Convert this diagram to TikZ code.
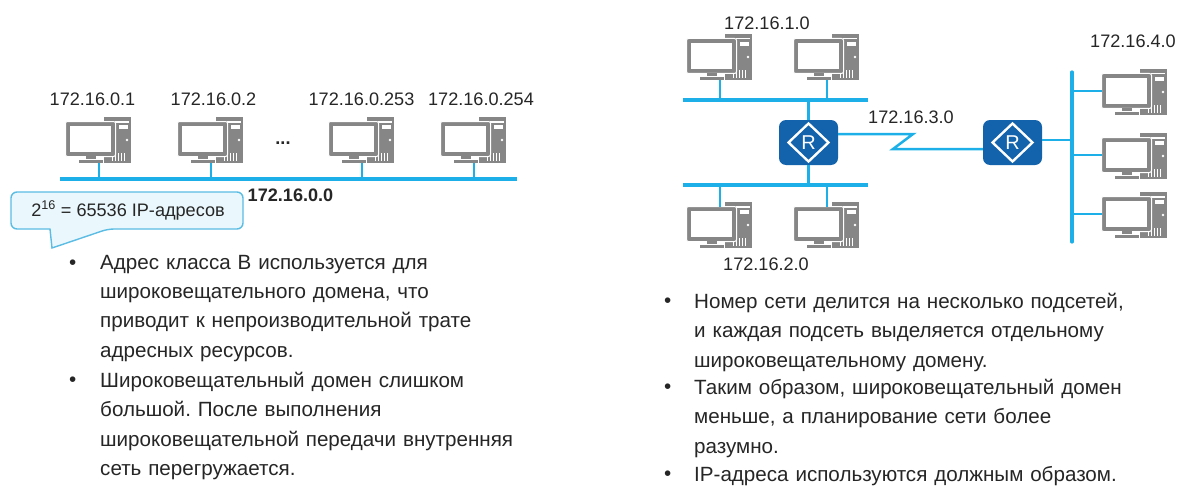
\documentclass[tikz,border=0pt]{standalone}
\usepackage{fontspec}
\usetikzlibrary{calc}
\setmainfont{Liberation Sans}
\frenchspacing
\definecolor{bus}{HTML}{1DB0E8}
\definecolor{rout}{HTML}{1262AC}
\definecolor{pcg}{HTML}{868686}
\definecolor{calloutb}{HTML}{5BBCE4}
\definecolor{calloutf}{HTML}{EAF7FC}
\definecolor{txt}{HTML}{262626}
\tikzset{
  x=1pt,y=-1pt,
  netline/.style={draw=bus,line width=3.2pt},
  link/.style={draw=bus,line width=2.5pt},
  lbl/.style={font=\fontsize{18.1}{20}\selectfont,text=txt,inner sep=0pt,anchor=center},
  body/.style={font=\fontsize{20.6}{29.3}\selectfont,text=txt,inner sep=0pt,anchor=north west,align=left},
  router/.style={fill=rout,rounded corners=7pt,minimum width=59pt,minimum height=45pt,inner sep=0pt},
  routerR/.style={font=\fontsize{20}{20}\selectfont,text=white,inner sep=0pt},
  pc/.pic={
    \fill[pcg] (38,-5) rectangle (65,41);
    \fill[white] (53,3) rectangle (62,7);
    \fill[white] (61,18) circle (1.3);
    \foreach \i in {46,49,52,55,58}{\fill[white] (\i,31) rectangle +(1,8);}
    \fill[white] (49,-1) rectangle (63,0.5);
    \fill[pcg,draw=white,line width=1pt,rounded corners=2pt] (-0.5,-0.5) rectangle (49.5,34.5);
    \fill[white] (4,4) rectangle (45,30);
    \fill[pcg] (20,34) rectangle (30,38);
    \fill[pcg,draw=white,line width=0.6pt] (12,37.5) rectangle (37,41.5);
    \coordinate (-p) at (33,41);
    \coordinate (-t) at (33,0);
    \coordinate (-l) at (0,17);
  }
}
\begin{document}
\begin{tikzpicture}
\useasboundingbox (0,0) rectangle (1195,495);
\fill[white] (0,0) rectangle (1195,495);
% left
\coordinate (busAl) at (60,179); \coordinate (busAr) at (517,179);
\foreach \n/\x in {a1/66,a2/178,a3/329,a4/441}{ \pic (\n) at (\x,122) {pc}; }
\draw[netline] (busAl) -- (busAr);
\foreach \n in {a1,a2,a3,a4}{ \draw[link] (\n-p) -- (\n-p |- busAl); }
\node[lbl] (la1) at (92.5,99) {172.16.0.1};
\node[lbl] (la2) at (213.5,99) {172.16.0.2};
\node[lbl] (la3) at (361.5,99) {172.16.0.253};
\node[lbl] (la4) at (481,99) {172.16.0.254};
\node[lbl] (dots) at (283,143) {\textbf{...}};
\node[lbl,font=\fontsize{18.1}{20}\selectfont\bfseries] (netA) at (290.5,195) {172.16.0.0};
\draw[draw=calloutb,fill=calloutf,line width=1.4pt,rounded corners=6pt]
  (11,192) -- (243,192) -- (243,229) -- (108,229) [sharp corners] -- (52,248) -- (50,229) [rounded corners=6pt] -- (11,229) -- cycle;
\node[lbl] (cal) at (128,210.5) {2\textsuperscript{16} = 65536 IP-адресов};
\node[body] (ta) at (69,260) {•};
\node[body,text width=440pt] (tb) at (100,255) {Адрес класса В используется для\\широковещательного домена, что\\приводит к непроизводительной трате\\адресных ресурсов.};
\node[body] (tc) at (69,377) {•};
\node[body,text width=440pt] (td) at (100,372) {Широковещательный домен слишком\\большой. После выполнения\\широковещательной передачи внутренняя\\сеть перегружается.};
% right
\node[router] (r1) at (808.5,142.5) {};
\node[router] (r2) at (1012.5,142.5) {};
\foreach \r in {r1,r2}{
  \draw[white,line width=2.4pt] ($(\r)+(-20,0)$) -- ($(\r)+(0,-19)$) -- ($(\r)+(20,0)$) -- ($(\r)+(0,19)$) -- cycle;
}
\node[routerR] (rr1) at (r1) {R};
\node[routerR] (rr2) at (r2) {R};
\coordinate (bBl) at (683,100); \coordinate (bBr) at (868,100);
\coordinate (bCl) at (683,185); \coordinate (bCr) at (868,185);
\coordinate (bDt) at (1072,72); \coordinate (bDb) at (1072,242);
\foreach \n/\x/\y in {b1/687/39,b2/794/39,c1/687/207,c2/794/207,d1/1102/74,d2/1102/138,d3/1102/197}{ \pic (\n) at (\x,\y) {pc}; }
\draw[netline] (bBl) -- (bBr);
\draw[netline] (bCl) -- (bCr);
\draw[netline,line cap=round] (bDt) -- (bDb);
\draw[link] (b1-p) -- (b1-p |- bBl);
\draw[link] (b2-p) -- (b2-p |- bBl);
\draw[link] (c1-t) -- (c1-t |- bCl);
\draw[link] (c2-t) -- (c2-t |- bCl);
\draw[link] (d1-l) -- (d1-l -| bDt);
\draw[link] (d2-l) -- (d2-l -| bDt);
\draw[link] (d3-l) -- (d3-l -| bDt);
\draw[link] (r1.north) -- (r1.north |- bBl);
\draw[link] (r1.south) -- (r1.south |- bCl);
\draw[link] (r1.east |- 0,134) -- (913,134) -- (893,149) -- (r2.west |- 0,149);
\draw[link] (r2.east |- 0,140) -- (1072,140);
\node[lbl] (lb) at (767,23) {172.16.1.0};
\node[lbl] (ln) at (911,117) {172.16.3.0};
\node[lbl] (lc) at (766,264) {172.16.2.0};
\node[lbl] (ld) at (1133,41) {172.16.4.0};
\node[body] (te) at (664,298) {•};
\node[body,text width=500pt] (tf) at (694,293) {Номер сети делится на несколько подсетей,\\и каждая подсеть выделяется отдельному\\широковещательному домену.};
\node[body] (tg) at (664,384) {•};
\node[body,text width=500pt] (th) at (694,379) {Таким образом, широковещательный домен\\меньше, а планирование сети более\\разумно.};
\node[body] (ti) at (664,471) {•};
\node[body,text width=500pt] (tj) at (694,466) {IP-адреса используются должным образом.};
\end{tikzpicture}
\end{document}
